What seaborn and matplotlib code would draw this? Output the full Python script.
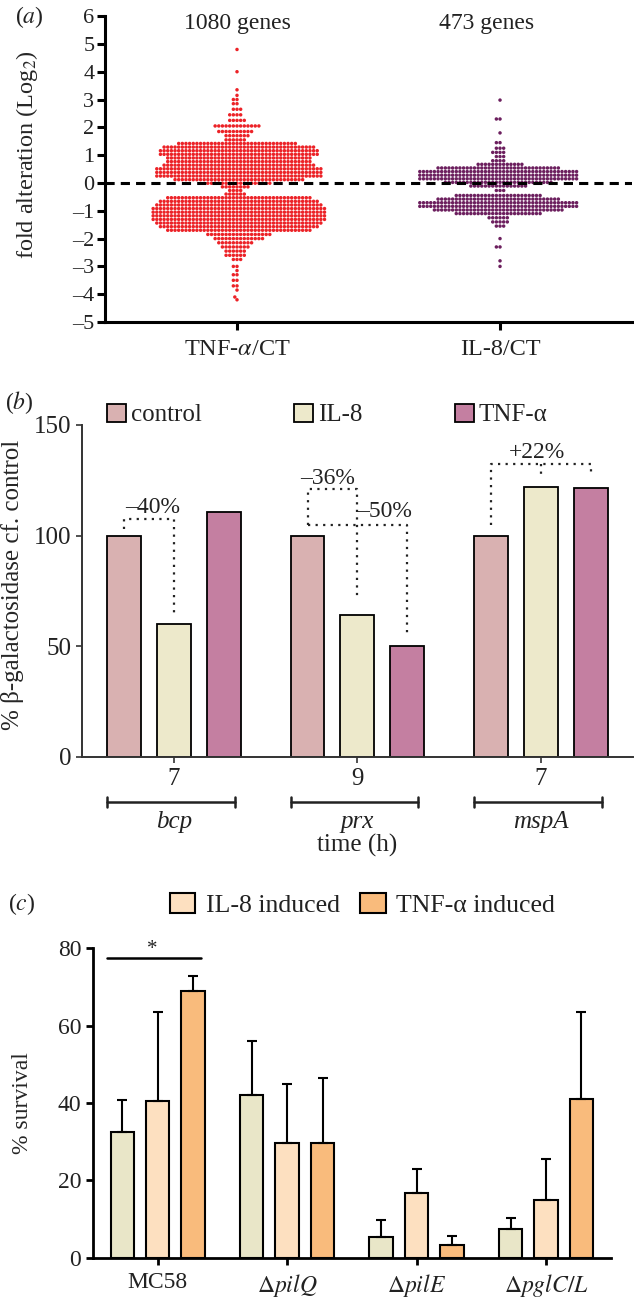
import numpy as np
import pandas as pd
import matplotlib
matplotlib.use('Agg')
import matplotlib.pyplot as plt
import seaborn as sns

comparisons = ['TNF-α/CT', 'IL-8/CT']
comparison_labels = [r'TNF-$\alpha$/CT', 'IL-8/CT']
gene_totals = ['1080 genes', '473 genes']

tnf_levels = [4.8, 4.0, 3.35, 3.15, 3.0, 2.85, 2.65, 2.45, 2.25, 2.05, 1.85, 1.7, 1.55,
              1.42, 1.29, 1.16, 1.03, 0.90, 0.77, 0.64, 0.51, 0.38, 0.25, 0.12, -0.01, -0.14,
              -0.27, -0.40,
              -0.53, -0.66, -0.79, -0.92, -1.05, -1.18, -1.31, -1.44, -1.57, -1.70,
              -1.85, -2.0, -2.15, -2.3, -2.45, -2.6, -2.75, -3.0, -3.15, -3.3, -3.5, -3.7,
              -3.85, -4.1, -4.2]
tnf_counts = [1, 1, 1, 1, 2, 2, 3, 4, 5, 13, 10, 7, 6,
              33, 42, 44, 44, 40, 40, 42, 46, 46, 46, 36, 18, 8,
              4, 6,
              40, 44, 46, 48, 48, 48, 48, 46, 44, 40,
              18, 14, 10, 8, 6, 6, 3, 2, 1, 2, 2, 2, 1, 1, 1]

il8_levels = [2.98, 2.3, 1.8, 1.45, 1.25, 1.1, 0.95, 0.8, 0.67,
              0.54, 0.41, 0.28, 0.15, 0.02, -0.11,
              -0.27,
              -0.45, -0.58, -0.71, -0.84, -0.97, -1.10,
              -1.25, -1.4, -1.55, -2.0, -2.3, -2.8, -3.0]
il8_counts = [1, 2, 1, 2, 3, 4, 3, 4, 13,
              34, 44, 44, 44, 30, 16,
              3,
              24, 34, 44, 44, 36, 24,
              6, 5, 3, 1, 2, 1, 1]

# ---- panel (b): beta-galactosidase reporter, % of control
genes_b = ['bcp', 'prx', 'mspA']
times_b = ['7', '9', '7']
treat_b = ['control', 'IL-8', 'TNF-α']
control_b = [100, 100, 100]
il8_b = [60, 64, 122]
tnf_b = [110.5, 50, 121.5]

# ---- panel (c): % survival
strains_c = ['MC58', 'ΔpilQ', 'ΔpilE', 'ΔpglC/L']
strain_labels = ['MC58', r'$\Delta\mathit{pilQ}$', r'$\Delta\mathit{pilE}$', r'$\Delta\mathit{pglC/L}$']
cond_c = ['control', 'IL-8 induced', 'TNF-α induced']
ctrl_c = [32.6, 42.0, 5.4, 7.4]
ctrl_err = [8.2, 14.0, 4.3, 2.8]
il8_c = [40.6, 29.7, 16.6, 14.9]
il8_err = [22.8, 15.1, 6.3, 10.5]
tnf_c = [68.9, 29.6, 3.2, 41.1]
tnf_err = [4.0, 16.8, 2.4, 22.3]

sns.set_style('ticks')
plt.rcParams['font.family'] = ['Liberation Serif', 'DejaVu Serif']
plt.rcParams['mathtext.fontset'] = 'stix'
plt.rcParams['text.color'] = '#222222'
plt.rcParams['xtick.color'] = '#222222'
plt.rcParams['ytick.color'] = '#222222'

fig = plt.figure(figsize=(6.34, 12.98), dpi=100)

# ================= (a) =================
ax_a = fig.add_axes([0.1664, 0.7519, 0.8297, 0.2357])
df_a = pd.DataFrame({
    'comparison': np.repeat(comparisons, [sum(tnf_counts), sum(il8_counts)]),
    'log2': np.concatenate([np.repeat(tnf_levels, tnf_counts), np.repeat(il8_levels, il8_counts)]),
})
sns.swarmplot(data=df_a, x='comparison', y='log2', hue='comparison', order=comparisons,
              palette=['#ec2227', '#6c1f5e'], size=2.5, linewidth=0, legend=False, ax=ax_a)
ax_a.axhline(0, color='black', lw=2.2, ls=(0, (3, 2)), zorder=5)
for i, txt in enumerate(gene_totals):
    ax_a.text(i - 0.05 * i, 5.75, txt, ha='center', va='center', fontsize=17)
ax_a.set_xlim(-0.5, 1.5)
ax_a.set_ylim(-5, 6)
ax_a.set_yticks(range(-5, 7))
ax_a.set_yticklabels([str(v).replace('-', '–') for v in range(-5, 7)])
ax_a.set_xticks([0, 1])
ax_a.set_xticklabels(comparison_labels)
ax_a.set_xlabel('')
ax_a.set_ylabel(r'fold alteration (Log$_2$)', fontsize=17.5, va='center')
ax_a.yaxis.set_label_coords(-0.149, 0.546)
ax_a.tick_params(axis='y', labelsize=16, width=2.2, length=6, pad=2, color='black')
ax_a.tick_params(axis='x', labelsize=17.5, width=2.2, length=6, pad=6, color='black')
for s in ['left', 'bottom']:
    ax_a.spines[s].set_linewidth(2.2)
    ax_a.spines[s].set_color('black')
sns.despine(ax=ax_a)

# ================= (b) =================
ax_b = fig.add_axes([0.1297, 0.4168, 0.8683, 0.2558])
df_b = pd.DataFrame({
    'gene': np.tile(genes_b, 3),
    'treatment': np.repeat(treat_b, 3),
    'value': control_b + il8_b + tnf_b,
})
sns.barplot(data=df_b, x='gene', y='value', hue='treatment', order=genes_b, hue_order=treat_b,
            palette=['#d9b1b1', '#ede9cb', '#c47fa1'], saturation=1, width=0.817, gap=0.32,
            edgecolor='black', linewidth=1.3, errorbar=None, ax=ax_b)
ax_b.set_xlim(-0.5, 2.5)
ax_b.set_ylim(0, 150)
ax_b.set_yticks([0, 50, 100, 150])
ax_b.set_xticks(range(3))
ax_b.set_xticklabels(times_b)
ax_b.set_xlabel('')
ax_b.set_ylabel('% β-galactosidase cf. control', fontsize=18, va='center')
ax_b.yaxis.set_label_coords(-0.126, 0.518)
ax_b.tick_params(axis='both', labelsize=18, width=1.2, length=4, color='#333333')
ax_b.tick_params(axis='x', pad=4)
for s in ['left', 'bottom']:
    ax_b.spines[s].set_linewidth(1.4)
    ax_b.spines[s].set_color('#333333')
sns.despine(ax=ax_b)

# bar centres, per gene and treatment
bx = [[ax_b.containers[k][g].get_x() + ax_b.containers[k][g].get_width() / 2 for k in range(3)]
      for g in range(3)]
dot = dict(color='#222222', lw=1.6, ls=(0, (1, 2.4)), zorder=4)
# bcp
ax_b.plot([bx[0][0], bx[0][0], bx[0][1], bx[0][1]], [103, 107.5, 107.5, 65], **dot)
ax_b.text((bx[0][0] + bx[0][1]) / 2 + 0.02, 112.5, '–40%', ha='center', va='center', fontsize=17)
# prx
ax_b.plot([bx[1][0], bx[1][0], bx[1][1], bx[1][1]], [105, 121, 121, 71], **dot)
ax_b.plot([bx[1][0], bx[1][2], bx[1][2]], [105, 105, 56], **dot)
ax_b.text(bx[1][0] + 0.11, 126, '–36%', ha='center', va='center', fontsize=17)
ax_b.text(bx[1][1] + 0.15, 111, '–50%', ha='center', va='center', fontsize=17)
# mspA
ax_b.plot([bx[2][0], bx[2][0], bx[2][2], bx[2][2]], [105, 132.3, 132.3, 127.4], **dot)
ax_b.plot([bx[2][1], bx[2][1]], [132.3, 126.7], **dot)
ax_b.text(bx[2][1] - 0.02, 137.5, '+22%', ha='center', va='center', fontsize=17)

# gene rulers below the time ticks
tr = ax_b.get_xaxis_transform()
for g, gene in enumerate(genes_b):
    ax_b.plot([g - 0.365, g + 0.33], [-0.1355, -0.1355], color='#222222', lw=1.8,
              transform=tr, clip_on=False)
    for xe in (g - 0.365, g + 0.33):
        ax_b.plot([xe, xe], [-0.121, -0.151], color='#222222', lw=1.8, transform=tr, clip_on=False)
    ax_b.text(g, -0.196, gene, style='italic', ha='center', va='center', fontsize=18, transform=tr)
ax_b.text(1, -0.265, 'time (h)', ha='center', va='center', fontsize=18, transform=tr)

ax_b.legend(loc='center left', bbox_to_anchor=(0.045, 1.03), ncol=3, frameon=False,
            fontsize=18, handlelength=0.75, handleheight=0.75, handletextpad=0.2,
            columnspacing=3.7, borderpad=0, borderaxespad=0)

# ================= (c) =================
ax_c = fig.add_axes([0.1467, 0.03105, 0.8166, 0.2384])
df_c = pd.DataFrame({
    'strain': np.tile(strains_c, 3),
    'condition': np.repeat(cond_c, 4),
    'survival': ctrl_c + il8_c + tnf_c,
})
sns.barplot(data=df_c, x='strain', y='survival', hue='condition', order=strains_c, hue_order=cond_c,
            palette=['#e9e6c8', '#fde0c0', '#f9bb7c'], saturation=1, width=0.822, gap=0.34,
            edgecolor='black', linewidth=1.5, errorbar=None, ax=ax_c)
for cont, vals, errs in zip(ax_c.containers, [ctrl_c, il8_c, tnf_c], [ctrl_err, il8_err, tnf_err]):
    xs = [p.get_x() + p.get_width() / 2 for p in cont]
    ax_c.errorbar(xs, vals, yerr=[np.zeros(len(errs)), errs], fmt='none', ecolor='black',
                  elinewidth=1.5, capsize=3.5, capthick=1.5, zorder=1)
ax_c.plot([-0.39, 0.335], [77.4, 77.4], color='black', lw=1.8, clip_on=False)
ax_c.text(-0.04, 79.6, '*', ha='center', va='center', fontsize=15, clip_on=False)
ax_c.set_xlim(-0.5, 3.5)
ax_c.set_ylim(0, 80)
ax_c.set_yticks([0, 20, 40, 60, 80])
ax_c.set_xticks(range(4))
ax_c.set_xticklabels(strain_labels)
ax_c.set_xlabel('')
ax_c.set_ylabel('% survival', fontsize=17, va='center')
ax_c.yaxis.set_label_coords(-0.137, 0.5)
ax_c.tick_params(axis='both', labelsize=17, width=2, length=5, color='black')
ax_c.tick_params(axis='x', pad=5)
for s in ['left', 'bottom']:
    ax_c.spines[s].set_linewidth(2)
    ax_c.spines[s].set_color('black')
sns.despine(ax=ax_c)
h, l = ax_c.get_legend_handles_labels()
ax_c.legend(h[1:], l[1:], loc='center', bbox_to_anchor=(0.52, 1.14), ncol=2, frameon=False,
            fontsize=18.5, handlelength=1.0, handleheight=0.8, handletextpad=0.4,
            columnspacing=0.8, borderpad=0, borderaxespad=0)

# panel letters
fig.text(15 / 634, 1 - 17 / 1298, '(' + r'$\mathit{a}$' + ')', fontsize=17, va='center', ha='left')
fig.text(5 / 634, 1 - 403 / 1298, '(' + r'$\mathit{b}$' + ')', fontsize=17, va='center', ha='left')
fig.text(8 / 634, 1 - 904 / 1298, '(' + r'$\mathit{c}$' + ')', fontsize=17, va='center', ha='left')

fig.savefig('out.png', dpi=100)
